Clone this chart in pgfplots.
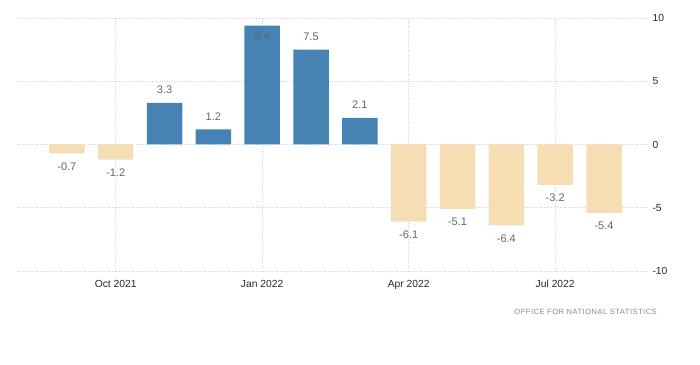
\documentclass[border=0pt]{standalone}
\usepackage{fontspec}
\setmainfont{Liberation Sans}
\usepackage{pgfplots}
\pgfplotsset{compat=1.18}
\definecolor{barblue}{HTML}{4682B4}
\definecolor{barbeige}{HTML}{F5DEB3}
\definecolor{gridc}{HTML}{D4D4D4}
\definecolor{lblc}{HTML}{666666}
\definecolor{srcc}{HTML}{8A8A8A}
\begin{document}
\begin{tikzpicture}[x=1pt,y=1pt]
\path[use as bounding box] (-18,-93) rectangle (682,271);
\begin{axis}[
  at={(0,0)}, anchor=south west,
  scale only axis, width=630pt, height=253pt,
  xmin=-1, xmax=11.9, ymin=-10, ymax=10,
  axis line style={draw=none},
  xtick={1,4,7,10},
  xticklabels={Oct 2021,Jan 2022,Apr 2022,Jul 2022},
  ytick={-10,-5,0,5,10},
  yticklabel pos=right,
  major tick length=0pt,
  grid=major,
  major grid style={gridc, dotted, line width=0.8pt},
  tick label style={font=\fontsize{10.3}{12}\selectfont, text=black!85},
  /pgf/number format/assume math mode=true,
  xticklabel style={yshift=-6pt},
  yticklabel style={xshift=1pt},
  clip=false,
]
\addplot[ybar, bar width=35.5pt, bar shift=0pt, fill=barblue, draw=none,
  nodes near coords, point meta=explicit symbolic,
  every node near coord/.append style={font=\fontsize{11}{12}\selectfont, text=lblc, inner sep=0pt, yshift=9pt}]
  coordinates {(2,3.3)[3.3] (3,1.2)[1.2] (4,9.4)[] (5,7.5)[7.5] (6,2.1)[2.1]};
\addplot[ybar, bar width=35.5pt, bar shift=0pt, fill=none, draw=none,
  nodes near coords, point meta=explicit symbolic,
  every node near coord/.append style={font=\fontsize{11}{12}\selectfont, text=lblc, inner sep=0pt, yshift=-14pt}]
  coordinates {(4,9.4)[9.4]};
\addplot[ybar, bar width=35.5pt, bar shift=0pt, fill=barbeige, draw=none,
  nodes near coords, point meta=explicit symbolic,
  every node near coord/.append style={font=\fontsize{11}{12}\selectfont, text=lblc, inner sep=0pt, yshift=-17pt}]
  coordinates {(0,-0.7)[-0.7] (1,-1.2)[-1.2] (7,-6.1)[-6.1] (8,-5.1)[-5.1] (9,-6.4)[-6.4] (10,-3.2)[-3.2] (11,-5.4)[-5.4]};
\end{axis}
\node[anchor=east, text=srcc, inner sep=0pt, font=\fontsize{7.6}{9}\selectfont\addfontfeatures{LetterSpace=6}] at (639,-40.5) {OFFICE FOR NATIONAL STATISTICS};
\end{tikzpicture}
\end{document}
